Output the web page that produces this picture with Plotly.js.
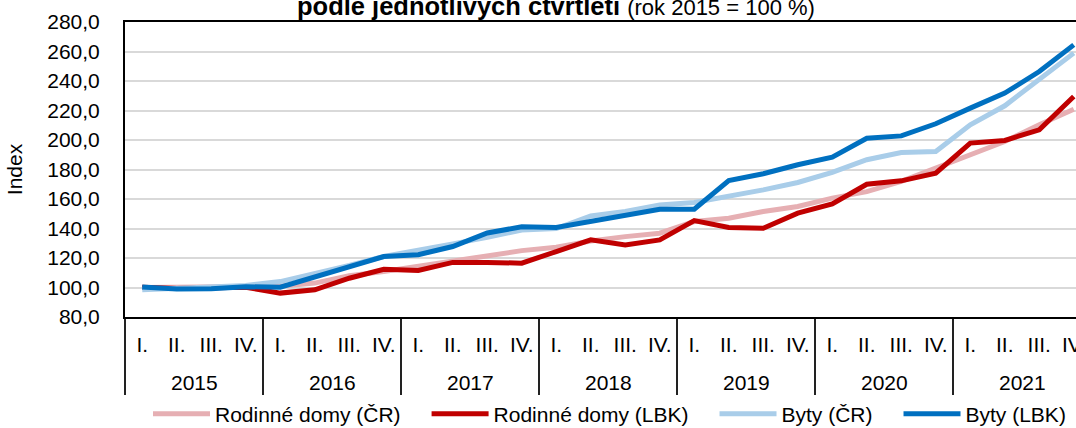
<!DOCTYPE html>
<html>
<head>
<meta charset="utf-8">
<script src="https://cdn.plot.ly/plotly-3.0.1.min.js"></script>
<style>
html, body { margin: 0; padding: 0; background: #fff; overflow: hidden; }
#chart { width: 1076px; height: 440px; }
</style>
</head>
<body>
<div id="chart"></div>
<script>
// ---- data ----
var years = ['2015', '2016', '2017', '2018', '2019', '2020', '2021'];
var quarters = ['I.', 'II.', 'III.', 'IV.'];

var rodinneDomyCR = [100.0, 100.0, 100.1, 100.5, 100.8, 103.0, 108.0, 110.8,
                     114.2, 117.6, 121.0, 125.0, 127.3, 131.5, 134.5, 136.8,
                     144.7, 147.0, 151.5, 154.9, 160.6, 165.0, 171.9, 181.0,
                     190.0, 199.0, 210.3, 220.9];
var rodinneDomyLBK = [100.2, 99.3, 99.8, 100.2, 96.2, 98.4, 106.3, 112.4,
                      111.5, 117.0, 117.0, 116.5, 124.4, 132.3, 128.9, 132.3,
                      145.4, 140.7, 140.2, 150.4, 156.7, 170.0, 172.3, 177.5,
                      197.9, 199.7, 206.9, 229.5];
var bytyCR = [98.4, 99.5, 100.7, 101.4, 104.0, 109.3, 114.9, 121.0,
              125.0, 129.6, 134.0, 139.0, 140.0, 148.5, 151.5, 156.0,
              157.6, 161.7, 166.2, 171.2, 178.0, 186.6, 191.5, 192.2,
              210.3, 223.2, 241.2, 258.9];
var bytyLBK = [100.4, 99.0, 99.2, 100.5, 100.2, 107.4, 114.2, 121.0,
               122.2, 127.8, 137.0, 141.2, 140.7, 144.7, 149.3, 153.1,
               153.1, 172.5, 177.1, 183.2, 188.4, 201.2, 202.8, 211.0,
               221.6, 231.8, 246.4, 264.5];

var seriesNames = ['Rodinné domy (ČR)', 'Rodinné domy (LBK)', 'Byty (ČR)', 'Byty (LBK)'];
var seriesColors = ['#E6AFB3', '#C00000', '#A9CDE9', '#0070C0'];
var titleMain = 'podle jednotlivých čtvrtletí';
var titleSub = '(rok 2015 = 100 %)';
var yTitle = 'Index';

// ---- build quarter positions / labels ----
var nQ = quarters.length;
var xIdx = [], xText = [], yearBounds = [], yearCenters = [];
years.forEach(function (y, yi) {
  quarters.forEach(function (q, qi) {
    xIdx.push(yi * nQ + qi);
    xText.push(q);
  });
  yearBounds.push(yi * nQ - 0.5);
  yearCenters.push(yi * nQ + (nQ - 1) / 2);
});
yearBounds.push(years.length * nQ - 0.5);

var values = [rodinneDomyCR, rodinneDomyLBK, bytyCR, bytyLBK];
var traces = values.map(function (v, i) {
  return {
    type: 'scatter',
    mode: 'lines',
    name: seriesNames[i] + (i < values.length - 1 ? '\u2003' : ''),
    x: xIdx,
    y: v,
    line: { color: seriesColors[i], width: 5 },
    hoverinfo: 'skip'
  };
});

var FONT = 'Liberation Sans, Arial, sans-serif';
var FS = 21;

var annotations = years.map(function (y, yi) {
  return {
    xref: 'x', yref: 'paper',
    x: yearCenters[yi], y: -(382 - 317) / 295,
    xanchor: 'center', yanchor: 'middle',
    showarrow: false,
    text: y,
    font: { family: FONT, size: FS, color: '#000' }
  };
});
annotations.push({
  xref: 'paper', yref: 'paper',
  x: (556 - 125) / 951, y: 1,
  xanchor: 'center', yanchor: 'bottom',
  showarrow: false,
  text: '<b>' + titleMain + '</b> <span style="font-size:22px">' + titleSub + '</span>',
  font: { family: FONT, size: 25.5, color: '#000' }
});

var layout = {
  width: 1076,
  height: 440,
  margin: { l: 125, r: 0, t: 22, b: 123 },
  paper_bgcolor: '#ffffff',
  plot_bgcolor: '#ffffff',
  separators: ', ',
  font: { family: FONT, size: FS, color: '#000' },
  showlegend: true,
  legend: {
    orientation: 'h',
    x: (148 - 125) / 951, xanchor: 'left',
    y: -0.329, yanchor: 'middle',
    font: { family: FONT, size: FS, color: '#000' },
    itemwidth: 57,
    traceorder: 'normal',
    bgcolor: 'rgba(0,0,0,0)'
  },
  xaxis: {
    type: 'linear',
    range: [-0.5, 27.065],
    tickmode: 'array',
    tickvals: xIdx,
    ticktext: xText,
    showgrid: false,
    zeroline: false,
    showline: true,
    linecolor: '#000',
    linewidth: 2,
    mirror: true,
    ticks: '',
    ticklabelstandoff: 8,
    ticklabeloverflow: 'allow',
    tickfont: { family: FONT, size: FS, color: '#000' },
    minor: {
      tickmode: 'array',
      tickvals: yearBounds,
      ticks: 'outside',
      ticklen: 76,
      tickwidth: 1.5,
      tickcolor: '#222',
      showgrid: false
    },
    fixedrange: true
  },
  yaxis: {
    range: [80, 280],
    dtick: 20,
    tick0: 80,
    tickformat: '.1f',
    showgrid: true,
    gridcolor: '#D9D9D9',
    gridwidth: 2,
    zeroline: false,
    showline: true,
    linecolor: '#000',
    linewidth: 2,
    ticks: '',
    ticklabelstandoff: 19,
    tickfont: { family: FONT, size: FS, color: '#000' },
    title: { text: yTitle, font: { family: FONT, size: FS, color: '#000' }, standoff: 19 },
    fixedrange: true
  },
  annotations: annotations
};

Plotly.newPlot('chart', traces, layout, { staticPlot: true, displayModeBar: false });
</script>
</body>
</html>
